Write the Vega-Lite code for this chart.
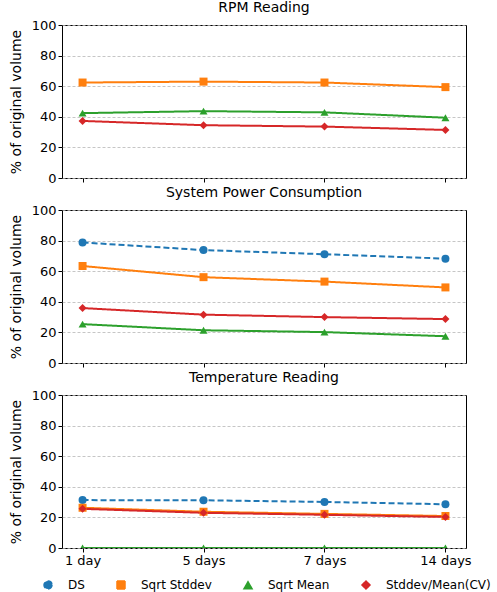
{
  "$schema": "https://vega.github.io/schema/vega-lite/v6.json",
  "padding": {"left": 8, "top": 0, "right": 2, "bottom": 0},
  "config": {
    "font": "DejaVu Sans",
    "view": {"stroke": "black", "strokeWidth": 1},
    "title": {"fontSize": 14, "fontWeight": "normal", "offset": 4, "color": "black"},
    "axis": {"labelFontSize": 13, "titleFontSize": 14, "titleFontWeight": "normal", "labelColor": "black", "titleColor": "black", "tickColor": "black", "tickSize": 4, "labelPadding": 2, "domain": false},
    "legend": {"labelFontSize": 12, "labelColor": "black"}
  },
  "datasets": {
    "d": [
      {"panel": "RPM Reading", "series": "Sqrt Stddev", "period": "1 day", "value": 62.4},
      {"panel": "RPM Reading", "series": "Sqrt Stddev", "period": "5 days", "value": 63.0},
      {"panel": "RPM Reading", "series": "Sqrt Stddev", "period": "7 days", "value": 62.4},
      {"panel": "RPM Reading", "series": "Sqrt Stddev", "period": "14 days", "value": 59.4},
      {"panel": "RPM Reading", "series": "Sqrt Mean", "period": "1 day", "value": 42.4},
      {"panel": "RPM Reading", "series": "Sqrt Mean", "period": "5 days", "value": 43.7},
      {"panel": "RPM Reading", "series": "Sqrt Mean", "period": "7 days", "value": 42.9},
      {"panel": "RPM Reading", "series": "Sqrt Mean", "period": "14 days", "value": 39.4},
      {"panel": "RPM Reading", "series": "Stddev/Mean(CV)", "period": "1 day", "value": 37.3},
      {"panel": "RPM Reading", "series": "Stddev/Mean(CV)", "period": "5 days", "value": 34.5},
      {"panel": "RPM Reading", "series": "Stddev/Mean(CV)", "period": "7 days", "value": 33.6},
      {"panel": "RPM Reading", "series": "Stddev/Mean(CV)", "period": "14 days", "value": 31.4},
      {"panel": "System Power Consumption", "series": "DS", "period": "1 day", "value": 78.8},
      {"panel": "System Power Consumption", "series": "DS", "period": "5 days", "value": 73.8},
      {"panel": "System Power Consumption", "series": "DS", "period": "7 days", "value": 71.1},
      {"panel": "System Power Consumption", "series": "DS", "period": "14 days", "value": 68.2},
      {"panel": "System Power Consumption", "series": "Sqrt Stddev", "period": "1 day", "value": 63.4},
      {"panel": "System Power Consumption", "series": "Sqrt Stddev", "period": "5 days", "value": 56.1},
      {"panel": "System Power Consumption", "series": "Sqrt Stddev", "period": "7 days", "value": 53.2},
      {"panel": "System Power Consumption", "series": "Sqrt Stddev", "period": "14 days", "value": 49.4},
      {"panel": "System Power Consumption", "series": "Sqrt Mean", "period": "1 day", "value": 25.4},
      {"panel": "System Power Consumption", "series": "Sqrt Mean", "period": "5 days", "value": 21.4},
      {"panel": "System Power Consumption", "series": "Sqrt Mean", "period": "7 days", "value": 20.2},
      {"panel": "System Power Consumption", "series": "Sqrt Mean", "period": "14 days", "value": 17.5},
      {"panel": "System Power Consumption", "series": "Stddev/Mean(CV)", "period": "1 day", "value": 35.9},
      {"panel": "System Power Consumption", "series": "Stddev/Mean(CV)", "period": "5 days", "value": 31.6},
      {"panel": "System Power Consumption", "series": "Stddev/Mean(CV)", "period": "7 days", "value": 30.0},
      {"panel": "System Power Consumption", "series": "Stddev/Mean(CV)", "period": "14 days", "value": 28.7},
      {"panel": "Temperature Reading", "series": "DS", "period": "1 day", "value": 31.3},
      {"panel": "Temperature Reading", "series": "DS", "period": "5 days", "value": 31.2},
      {"panel": "Temperature Reading", "series": "DS", "period": "7 days", "value": 30.1},
      {"panel": "Temperature Reading", "series": "DS", "period": "14 days", "value": 28.6},
      {"panel": "Temperature Reading", "series": "Sqrt Stddev", "period": "1 day", "value": 26.3},
      {"panel": "Temperature Reading", "series": "Sqrt Stddev", "period": "5 days", "value": 23.7},
      {"panel": "Temperature Reading", "series": "Sqrt Stddev", "period": "7 days", "value": 22.3},
      {"panel": "Temperature Reading", "series": "Sqrt Stddev", "period": "14 days", "value": 20.9},
      {"panel": "Temperature Reading", "series": "Sqrt Mean", "period": "1 day", "value": 0},
      {"panel": "Temperature Reading", "series": "Sqrt Mean", "period": "5 days", "value": 0},
      {"panel": "Temperature Reading", "series": "Sqrt Mean", "period": "7 days", "value": 0},
      {"panel": "Temperature Reading", "series": "Sqrt Mean", "period": "14 days", "value": 0},
      {"panel": "Temperature Reading", "series": "Stddev/Mean(CV)", "period": "1 day", "value": 25.6},
      {"panel": "Temperature Reading", "series": "Stddev/Mean(CV)", "period": "5 days", "value": 23.0},
      {"panel": "Temperature Reading", "series": "Stddev/Mean(CV)", "period": "7 days", "value": 21.7},
      {"panel": "Temperature Reading", "series": "Stddev/Mean(CV)", "period": "14 days", "value": 20.3}
    ]
  },
  "spacing": -1,
  "resolve": {"scale": {"color": "shared"}},
  "vconcat": [
    {
      "title": "RPM Reading",
      "width": 404, "height": 153,
      "data": {"name": "d"},
      "transform": [{"filter": "datum.panel === 'RPM Reading'"}],
      "encoding": {
        "x": {"field": "period", "type": "ordinal", "sort": ["1 day", "5 days", "7 days", "14 days"], "scale": {"type": "point", "padding": 0.17}, "axis": {"labels": false, "title": null, "grid": false}},
        "y": {"field": "value", "type": "quantitative", "scale": {"domain": [0, 100]}, "axis": {"values": [0, 20, 40, 60, 80, 100], "title": "% of original volume", "titlePadding": 8, "gridDash": [3, 2], "gridColor": "#b8b8b8", "gridWidth": 0.8}},
        "color": {
          "field": "series", "type": "nominal",
          "scale": {"domain": ["DS", "Sqrt Stddev", "Sqrt Mean", "Stddev/Mean(CV)"], "range": ["#1f77b4", "#ff7f0e", "#2ca02c", "#d62728"]},
          "legend": {"orient": "none", "legendX": -20, "legendY": 554, "direction": "horizontal", "title": null, "symbolSize": 64, "labelOffset": 14, "columnPadding": 29}
        }
      },
      "layer": [
        {"mark": {"type": "line", "strokeWidth": 2, "clip": true}, "encoding": {"strokeDash": {"field": "series", "type": "nominal", "scale": {"domain": ["DS", "Sqrt Stddev", "Sqrt Mean", "Stddev/Mean(CV)"], "range": [[6, 3], [1, 0], [1, 0], [1, 0]]}, "legend": null}}},
        {"mark": {"type": "point", "filled": true, "opacity": 1, "size": 64, "clip": true}, "encoding": {"shape": {"field": "series", "type": "nominal", "scale": {"domain": ["DS", "Sqrt Stddev", "Sqrt Mean", "Stddev/Mean(CV)"], "range": ["circle", "square", "triangle-up", "diamond"]}, "legend": null}}}
      ]
    },
    {
      "title": "System Power Consumption",
      "width": 404, "height": 153,
      "data": {"name": "d"},
      "transform": [{"filter": "datum.panel === 'System Power Consumption'"}],
      "encoding": {
        "x": {"field": "period", "type": "ordinal", "sort": ["1 day", "5 days", "7 days", "14 days"], "scale": {"type": "point", "padding": 0.17}, "axis": {"labels": false, "title": null, "grid": false}},
        "y": {"field": "value", "type": "quantitative", "scale": {"domain": [0, 100]}, "axis": {"values": [0, 20, 40, 60, 80, 100], "title": "% of original volume", "titlePadding": 8, "gridDash": [3, 2], "gridColor": "#b8b8b8", "gridWidth": 0.8}},
        "color": {"field": "series", "type": "nominal", "scale": {"domain": ["DS", "Sqrt Stddev", "Sqrt Mean", "Stddev/Mean(CV)"], "range": ["#1f77b4", "#ff7f0e", "#2ca02c", "#d62728"]}}
      },
      "layer": [
        {"mark": {"type": "line", "strokeWidth": 2, "clip": true}, "encoding": {"strokeDash": {"field": "series", "type": "nominal", "scale": {"domain": ["DS", "Sqrt Stddev", "Sqrt Mean", "Stddev/Mean(CV)"], "range": [[6, 3], [1, 0], [1, 0], [1, 0]]}, "legend": null}}},
        {"mark": {"type": "point", "filled": true, "opacity": 1, "size": 64, "clip": true}, "encoding": {"shape": {"field": "series", "type": "nominal", "scale": {"domain": ["DS", "Sqrt Stddev", "Sqrt Mean", "Stddev/Mean(CV)"], "range": ["circle", "square", "triangle-up", "diamond"]}, "legend": null}}}
      ]
    },
    {
      "title": "Temperature Reading",
      "width": 404, "height": 153,
      "data": {"name": "d"},
      "transform": [{"filter": "datum.panel === 'Temperature Reading'"}],
      "encoding": {
        "x": {"field": "period", "type": "ordinal", "sort": ["1 day", "5 days", "7 days", "14 days"], "scale": {"type": "point", "padding": 0.17}, "axis": {"labelAngle": 0, "title": null, "grid": false}},
        "y": {"field": "value", "type": "quantitative", "scale": {"domain": [0, 100]}, "axis": {"values": [0, 20, 40, 60, 80, 100], "title": "% of original volume", "titlePadding": 8, "gridDash": [3, 2], "gridColor": "#b8b8b8", "gridWidth": 0.8}},
        "color": {"field": "series", "type": "nominal", "scale": {"domain": ["DS", "Sqrt Stddev", "Sqrt Mean", "Stddev/Mean(CV)"], "range": ["#1f77b4", "#ff7f0e", "#2ca02c", "#d62728"]}}
      },
      "layer": [
        {"mark": {"type": "line", "strokeWidth": 2, "clip": true}, "encoding": {"strokeDash": {"field": "series", "type": "nominal", "scale": {"domain": ["DS", "Sqrt Stddev", "Sqrt Mean", "Stddev/Mean(CV)"], "range": [[6, 3], [1, 0], [1, 0], [1, 0]]}, "legend": null}}},
        {"mark": {"type": "point", "filled": true, "opacity": 1, "size": 64, "clip": true}, "encoding": {"shape": {"field": "series", "type": "nominal", "scale": {"domain": ["DS", "Sqrt Stddev", "Sqrt Mean", "Stddev/Mean(CV)"], "range": ["circle", "square", "triangle-up", "diamond"]}, "legend": null}}}
      ]
    }
  ]
}
